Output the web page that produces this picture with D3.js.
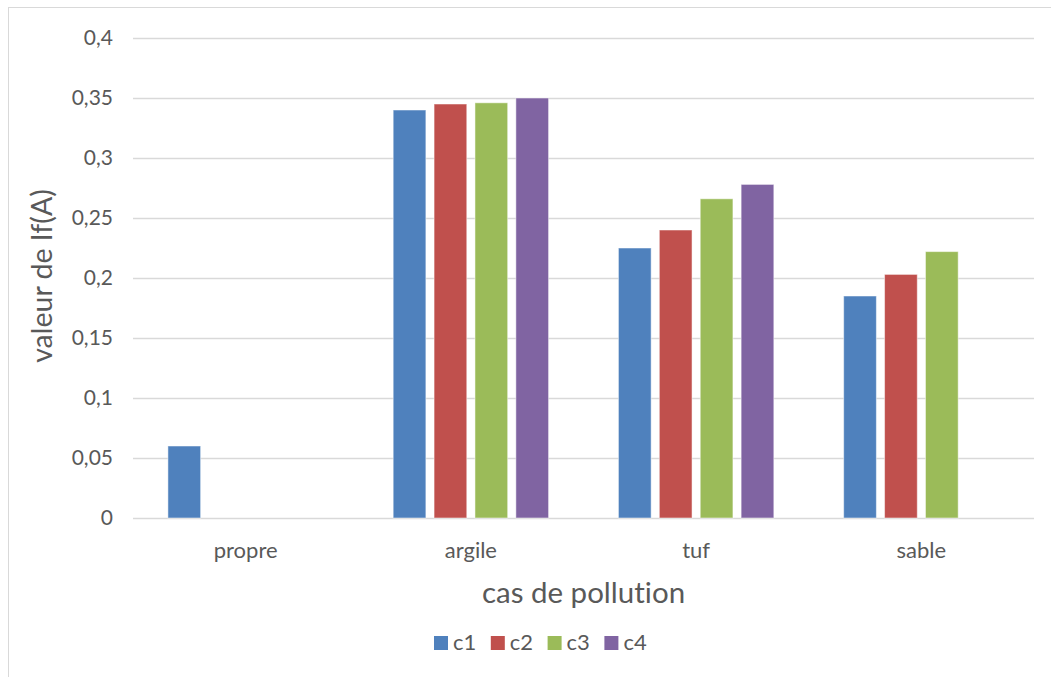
<!DOCTYPE html>
<html lang="fr">
<head>
    <meta charset="utf-8">
    <title>valeur de If(A)</title>
    <script src="https://d3js.org/d3.v7.min.js"></script>
    <style>
        body { margin: 0; background: #fff; }
        svg text { font-family: Lato, "Open Sans", sans-serif; fill: #595959; font-variant-ligatures: none; }
    </style>
</head>
<body>
<div id="chart1"></div>
<script type="text/javascript">
    // Data
    var categories = ["propre", "argile", "tuf", "sable"];
    var series = ["c1", "c2", "c3", "c4"];
    var c1 = [0.06, 0.34, 0.225, 0.185];
    var c2 = [null, 0.345, 0.24, 0.203];
    var c3 = [null, 0.346, 0.266, 0.222];
    var c4 = [null, 0.35, 0.278, null];
    var yTicks = [0, 0.05, 0.1, 0.15, 0.2, 0.25, 0.3, 0.35, 0.4];
    var colors = ["#4F81BD", "#C0504D", "#9BBB59", "#8064A2"];

    var values = [c1, c2, c3, c4];
    var w = 1051, h = 677;
    var plotLeft = 133, plotRight = 1034, plotTop = 38, plotBottom = 518;

    var svg = d3.select("#chart1")
        .append("svg")
        .attr("width", w)
        .attr("height", h);

    // outer frame
    svg.append("rect")
        .attr("x", 8.5).attr("y", 7.5)
        .attr("width", w).attr("height", h)
        .attr("fill", "none")
        .attr("stroke", "#d9d9d9");

    var x0 = d3.scaleBand().domain(categories).range([plotLeft, plotRight]);
    var bw = x0.bandwidth();
    var x1 = d3.scaleBand().domain(series)
        .range([bw * 0.155, bw * 0.845])
        .paddingInner(0.2);
    var y = d3.scaleLinear().domain([0, 0.4]).range([plotBottom, plotTop]);

    // gridlines
    svg.append("g")
        .selectAll("line")
        .data(yTicks)
        .enter()
        .append("line")
        .attr("x1", plotLeft).attr("x2", plotRight)
        .attr("y1", function (d) { return Math.round(y(d)) + 0.5; })
        .attr("y2", function (d) { return Math.round(y(d)) + 0.5; })
        .attr("stroke", "#d9d9d9")
        .attr("stroke-width", 1.3);

    // y axis labels
    var yAxis = d3.axisLeft(y)
        .tickValues(yTicks)
        .tickSize(0)
        .tickPadding(20)
        .tickFormat(function (d) { return String(d).replace(".", ","); });
    var gy = svg.append("g")
        .attr("transform", "translate(" + plotLeft + ",0)")
        .call(yAxis);
    gy.select(".domain").remove();
    gy.selectAll("text")
        .style("font-size", "21px")
        .attr("fill", "#595959");

    // x axis labels
    var xAxis = d3.axisBottom(x0).tickSize(0).tickPadding(40);
    var gx = svg.append("g")
        .attr("transform", "translate(0," + plotBottom + ")")
        .call(xAxis);
    gx.select(".domain").remove();
    gx.selectAll("text")
        .style("font-size", "22px")
        .attr("dy", "0")
        .attr("fill", "#595959");

    // bars
    var groups = svg.append("g")
        .selectAll("g")
        .data(categories)
        .enter()
        .append("g")
        .attr("transform", function (d) { return "translate(" + x0(d) + ",0)"; });

    groups.selectAll("rect")
        .data(function (d, i) {
            return series.map(function (s, j) {
                return { s: s, v: values[j][i], c: colors[j] };
            }).filter(function (e) { return e.v != null; });
        })
        .enter()
        .append("rect")
        .attr("x", function (d) { return x1(d.s); })
        .attr("y", function (d) { return y(d.v); })
        .attr("width", x1.bandwidth())
        .attr("height", function (d) { return plotBottom - y(d.v); })
        .attr("fill", function (d) { return d.c; })
        .attr("stroke", "#ffffff")
        .attr("stroke-opacity", 0.5)
        .attr("stroke-width", 1);

    // axis titles
    svg.append("text")
        .attr("x", (plotLeft + plotRight) / 2)
        .attr("y", 603)
        .attr("text-anchor", "middle")
        .style("font-size", "29.5px")
        .text("cas de pollution");

    svg.append("text")
        .attr("transform", "translate(52,276) rotate(-90)")
        .attr("text-anchor", "middle")
        .style("font-size", "28.5px")
        .text("valeur de If(A)");

    // legend
    var legend = svg.append("g")
        .selectAll("g")
        .data(series)
        .enter()
        .append("g")
        .attr("transform", function (d, i) { return "translate(" + (434 + i * 56.8) + ",636)"; });
    legend.append("rect")
        .attr("width", 14).attr("height", 14)
        .attr("fill", function (d, i) { return colors[i]; });
    legend.append("text")
        .attr("x", 19).attr("y", 14)
        .style("font-size", "22px")
        .text(function (d) { return d; });
</script>
</body>
</html>
